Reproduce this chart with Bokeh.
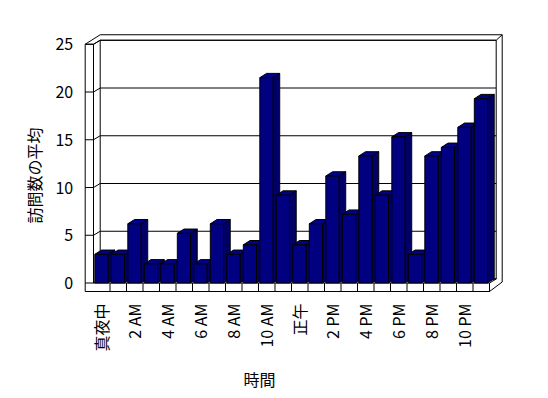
import math
from bokeh.plotting import figure
from bokeh.models import Range1d, ColumnDataSource
from bokeh.embed import file_html
from bokeh.resources import INLINE
from bokeh.core.properties import value

# ---------------- data ----------------
hours = ["真夜中", "1 AM", "2 AM", "3 AM", "4 AM", "5 AM", "6 AM", "7 AM",
         "8 AM", "9 AM", "10 AM", "11 AM", "正午", "1 PM", "2 PM", "3 PM",
         "4 PM", "5 PM", "6 PM", "7 PM", "8 PM", "9 PM", "10 PM", "11 PM"]
visits = [3.0, 3.0, 6.2, 2.0, 2.0, 5.2, 2.0, 6.2, 3.0, 4.0, 21.5, 9.2,
          4.0, 6.2, 11.2, 7.2, 13.3, 9.2, 15.3, 3.0, 13.3, 14.2, 16.3, 19.3]
y_ticks = [0, 5, 10, 15, 20, 25]
x_title = "時間"
y_title = "訪問数の平均"

# ---------------- layout (pixel scales) ----------------
W, H = 540, 390
PXX, X0 = 16.5, 93.0      # px per category, canvas x of category 0
PXY, Y0 = 9.55, 282.5     # px per unit, canvas y of value 0
N = len(hours)
YMAX = y_ticks[-1]

DX, DY = 6.7 / PXX, 4.0 / PXY          # depth of floor / walls
BDX, BDY = 6.7 / PXX, 4.3 / PXY        # depth of bars
TW = 8.3 / PXX                          # left wall thickness
TF = 8.5 / PXY                          # floor thickness
TBX, TBY = 6.0 / PXX, 5.5 / PXY         # back wall thickness
G1, G2 = 0.08, 0.88                     # bar front face within category

FONT = value("Noto Sans CJK JP")

p = figure(width=W, height=H, output_backend="svg", toolbar_location=None,
           x_range=Range1d(-X0 / PXX, (W - X0) / PXX),
           y_range=Range1d((Y0 - H) / PXY, Y0 / PXY),
           x_axis_location=None, y_axis_location=None, min_border=0)
p.grid.visible = False
p.outline_line_color = None
p.background_fill_color = "white"
p.border_fill_color = "white"

TOP_IN = YMAX + DY
TOP_OUT = YMAX + DY + TBY
R_IN = N + DX
R_OUT = N + DX + TBX
FB_OUT = -TF + DY + TBY

xs, ys = [], []
def seg(x1, y1, x2, y2):
    xs.append([x1, x2]); ys.append([y1, y2])

# walls and floor outline
seg(-TW, YMAX, -TW, -TF)
seg(0, YMAX, 0, 0)
seg(-TW, YMAX, 0, YMAX)
seg(-TW, YMAX, DX, TOP_OUT)
seg(0, YMAX, DX, TOP_IN)
seg(DX, TOP_OUT, R_OUT, TOP_OUT)
seg(DX, TOP_IN, R_IN, TOP_IN)
seg(R_IN, TOP_IN, R_OUT, TOP_OUT)
seg(DX, TOP_IN, DX, DY)
seg(R_IN, TOP_IN, R_IN, DY)
seg(R_OUT, TOP_OUT, R_OUT, FB_OUT)
seg(-TW, -TF, N, -TF)
seg(0, 0, N, 0)
seg(N, 0, N, -TF)
seg(N, 0, R_IN, DY)
seg(N, -TF, R_OUT, FB_OUT)
seg(DX, DY, R_IN, DY)
for k in range(1, N):
    seg(k, 0, k, -TF)
# gridlines on back wall, left wall and its front face
for v in y_ticks:
    seg(DX, v + DY, R_IN, v + DY)
    seg(0, v, DX, v + DY)
    seg(-TW, v, 0, v)

p.multi_line(xs, ys, line_color="black", line_width=1)

# bars
side_x, side_y, top_x, top_y = [], [], [], []
for i, v in enumerate(visits):
    L, R = i + G1, i + G2
    side_x.append([R, R + BDX, R + BDX, R])
    side_y.append([0, BDY, v + BDY, v])
    top_x.append([L, R, R + BDX, L + BDX])
    top_y.append([v, v, v + BDY, v + BDY])

p.patches(side_x, side_y, fill_color="#000066", line_color="black", line_width=1)
p.patches(top_x, top_y, fill_color="#000088", line_color="black", line_width=1)
src = ColumnDataSource(dict(left=[i + G1 for i in range(N)],
                            right=[i + G2 for i in range(N)],
                            top=visits, bottom=[0] * N))
p.quad(left="left", right="right", top="top", bottom="bottom", source=src,
       fill_color="#000080", line_color="black", line_width=1)

# y tick labels
ysrc = ColumnDataSource(dict(x=[-TW - 12.0 / PXX] * len(y_ticks), y=y_ticks,
                             t=[str(t) for t in y_ticks]))
p.text(x="x", y="y", text="t", source=ysrc, text_font=FONT,
       text_font_size="16px", text_align="right", text_baseline="middle",
       text_color="black")

# category labels (every second hour)
idx = list(range(0, N, 2))
xsrc = ColumnDataSource(dict(x=[i + 0.45 for i in idx],
                             y=[-20.5 / PXY] * len(idx),
                             t=[hours[i] for i in idx]))
p.text(x="x", y="y", text="t", source=xsrc, angle=math.pi / 2,
       text_font=FONT, text_font_size="16px", text_align="right",
       text_baseline="middle", text_color="black")

# axis titles
p.text(x=[(259 - X0) / PXX], y=[(Y0 - 378) / PXY], text=[x_title],
       text_font=FONT, text_font_size="16px", text_align="center",
       text_baseline="middle", text_color="black")
p.text(x=[(33 - X0) / PXX], y=[(Y0 - 175) / PXY], text=[y_title],
       angle=math.pi / 2, text_font=FONT, text_font_size="16px",
       text_align="center", text_baseline="middle", text_color="black")

open("out.html", "w").write(file_html(p, INLINE))
